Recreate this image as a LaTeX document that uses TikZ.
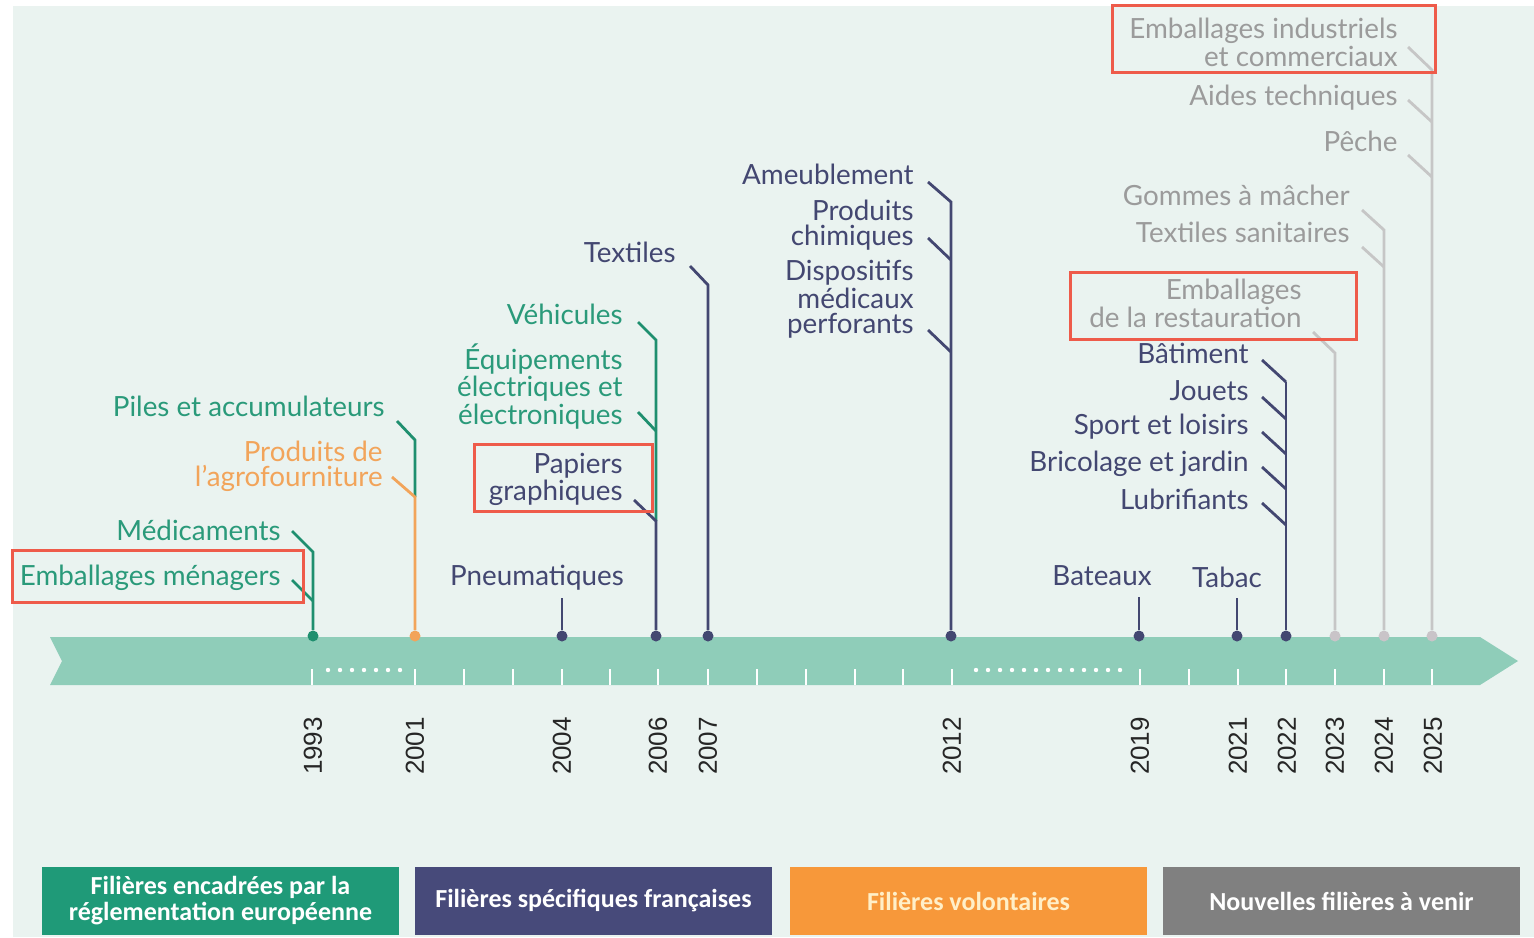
\documentclass[tikz,border=0pt]{standalone}
\usepackage{fontspec}
\setmainfont{Lato}
\newfontfamily\yearfont{Liberation Sans}
\newfontfamily\legfont{Carlito}
\definecolor{bgc}{HTML}{EAF3F0}
\definecolor{bandc}{HTML}{8FCDB9}
\definecolor{tgreen}{HTML}{2A9A7A}
\definecolor{lgreen}{HTML}{1F8F6F}
\definecolor{navy}{HTML}{434771}
\definecolor{torange}{HTML}{F2A45A}
\definecolor{tgray}{HTML}{9B9B9B}
\definecolor{lgray}{HTML}{C6C6C6}
\definecolor{dgray}{HTML}{C9C4C8}
\definecolor{redbox}{HTML}{EE5B4A}
\definecolor{legg}{HTML}{1F9A78}
\definecolor{legn}{HTML}{474A7A}
\definecolor{lego}{HTML}{F7983A}
\definecolor{legy}{HTML}{808080}
\definecolor{legot}{HTML}{FFEFC8}
\begin{document}
\begin{tikzpicture}[x=0.5pt,y=-0.5pt,
  lbl/.style={anchor=east, inner sep=0pt, align=right, yshift=-1.2pt, font=\fontsize{13.9}{12.6}\selectfont},
  gtxt/.style={lbl, text=tgreen},
  ntxt/.style={lbl, text=navy},
  otxt/.style={lbl, text=torange},
  ytxt/.style={lbl, text=tgray},
  gl/.style={draw=lgreen, line width=1.4pt},
  nl/.style={draw=navy, line width=1.4pt},
  ol/.style={draw=torange, line width=1.4pt},
  yl/.style={draw=lgray, line width=1.4pt},
  dot/.style={circle, inner sep=0pt, minimum size=5.5pt},
  tick/.style={draw=white, line width=1.3pt},
  year/.style={rotate=90, inner sep=0pt, font=\yearfont\fontsize{13}{13}\selectfont, text=black!85},
  hl/.style={draw=redbox, line width=1.5pt},
  leg/.style={minimum width=178.5pt, minimum height=34pt, inner sep=0pt, align=center, font=\legfont\bfseries\fontsize{13}{13}\selectfont}
]
\useasboundingbox (0,0) rectangle (1534,937);
\fill[white] (0,0) rectangle (1534,937);
\fill[bgc] (13,6) rectangle (1534,937);

% band
\fill[bandc] (50,637) -- (1480,637) -- (1518,661) -- (1480,685) -- (50,685) -- (62,661) -- cycle;
\foreach \x in {312,415,464,513,562,610,658,708,757,806,855,903,952,1140,1189,1238,1286,1335,1384,1432}
  \draw[tick] (\x,669) -- (\x,685);
\foreach \x in {328,340,...,400} \fill[white] (\x,670) circle (1.1pt);
\foreach \x in {976,988,...,1120} \fill[white] (\x,670) circle (1.1pt);

% years
\foreach \x/\y in {313/1993,415/2001,562/2004,658/2006,708/2007,952/2012,1140/2019,1238/2021,1287/2022,1335/2023,1384/2024,1433/2025}
  \node[year] at (\x,746) {\y};

% dots
\node[dot, fill=lgreen] (d93) at (313,636) {};
\node[dot, fill=torange] (d01) at (415,636) {};
\node[dot, fill=navy] (d04) at (562,636) {};
\node[dot, fill=navy] (d06) at (656,636) {};
\node[dot, fill=navy] (d07) at (708,636) {};
\node[dot, fill=navy] (d12) at (951,636) {};
\node[dot, fill=navy] (d19) at (1139,636) {};
\node[dot, fill=navy] (d21) at (1237,636) {};
\node[dot, fill=navy] (d22) at (1286,636) {};
\node[dot, fill=dgray] (d23) at (1335,636) {};
\node[dot, fill=dgray] (d24) at (1384,636) {};
\node[dot, fill=dgray] (d25) at (1432,636) {};

% labels
\node[gtxt] (t1) at (385,404) {Piles et accumulateurs};
\node[otxt] (t2) at (383,464) {Produits de\\l’agrofourniture};
\node[gtxt] (t3) at (281,528) {Médicaments};
\node[gtxt] (t4) at (281,575) {Emballages ménagers};
\node[ntxt, anchor=center] (t5) at (537,575) {Pneumatiques};
\node[gtxt] (t6) at (623,312) {Véhicules};
\node[gtxt] (t7) at (623,384) {Équipements\\électriques et\\électroniques};
\node[ntxt] (t8) at (623,477) {Papiers\\graphiques};
\node[ntxt] (t9) at (676,250) {Textiles};
\node[ntxt] (t10) at (914,172) {Ameublement};
\node[ntxt] (t11) at (914,223) {Produits\\chimiques};
\node[ntxt] (t12) at (914,297) {Dispositifs\\médicaux\\perforants};
\node[ytxt] (t13) at (1398,40) {Emballages industriels\\et commerciaux};
\node[ytxt] (t14) at (1398,95) {Aides techniques};
\node[ytxt] (t15) at (1398,139) {Pêche};
\node[ytxt] (t16) at (1350,193) {Gommes à mâcher};
\node[ytxt] (t17) at (1350,230) {Textiles sanitaires};
\node[ytxt] (t18) at (1302,301) {Emballages\\de la restauration};
\node[ntxt] (t19) at (1249,351) {Bâtiment};
\node[ntxt] (t20) at (1249,388) {Jouets};
\node[ntxt] (t21) at (1249,424) {Sport et loisirs};
\node[ntxt] (t22) at (1249,461) {Bricolage et jardin};
\node[ntxt] (t23) at (1249,497) {Lubrifiants};
\node[ntxt, anchor=center] (t24) at (1102,573) {Bateaux};
\node[ntxt, anchor=center] (t25) at (1227,575) {Tabac};

% connectors 1993
\coordinate (a1) at (292,531); \coordinate (ja1) at (313,552);
\coordinate (a2) at (292,580); \coordinate (ja2) at (313,601);
\draw[gl] (a1) -- (ja1) -- (d93);
\draw[gl] (a2) -- (ja2);
% 2001
\coordinate (b1) at (397,421); \coordinate (jb1) at (415,440);
\coordinate (b2) at (392,477); \coordinate (jb2) at (415,497);
\draw[gl] (b1) -- (jb1) -- (jb2);
\draw[ol] (b2) -- (jb2) -- (d01);
% 2004
\coordinate (c1) at (562,598);
\draw[nl] (c1) -- (d04);
% 2006
\coordinate (e1) at (638,322); \coordinate (je1) at (656,340);
\coordinate (e2) at (638,412); \coordinate (je2) at (656,431);
\coordinate (e3) at (634,500); \coordinate (je3) at (656,521);
\draw[gl] (e1) -- (je1) -- (je3);
\draw[gl] (e2) -- (je2);
\draw[nl] (e3) -- (je3) -- (d06);
% 2007
\coordinate (f1) at (690,266); \coordinate (jf1) at (708,285);
\draw[nl] (f1) -- (jf1) -- (d07);
% 2012
\coordinate (g1) at (928,182); \coordinate (jg1) at (951,202);
\coordinate (g2) at (928,238); \coordinate (jg2) at (951,260);
\coordinate (g3) at (928,330); \coordinate (jg3) at (951,352);
\draw[nl] (g1) -- (jg1) -- (d12);
\draw[nl] (g2) -- (jg2);
\draw[nl] (g3) -- (jg3);
% 2019, 2021
\coordinate (h1) at (1139,597); \draw[nl] (h1) -- (d19);
\coordinate (i1) at (1237,598); \draw[nl] (i1) -- (d21);
% 2022
\foreach \yy [count=\k] in {360,397,432,467,503} {
  \coordinate (k\k) at (1262,\yy); \coordinate (jk\k) at (1286,\yy+22);
  \draw[nl] (k\k) -- (jk\k);
}
\draw[nl] (jk1) -- (d22);
% 2023
\coordinate (m1) at (1313,332); \coordinate (jm1) at (1335,353);
\draw[yl] (m1) -- (jm1) -- (d23);
% 2024
\coordinate (n1) at (1362,210); \coordinate (jn1) at (1384,230);
\coordinate (n2) at (1362,247); \coordinate (jn2) at (1384,267);
\draw[yl] (n1) -- (jn1) -- (d24);
\draw[yl] (n2) -- (jn2);
% 2025
\coordinate (p1) at (1408,47); \coordinate (jp1) at (1432,70);
\coordinate (p2) at (1408,100); \coordinate (jp2) at (1432,122);
\coordinate (p3) at (1408,155); \coordinate (jp3) at (1432,177);
\draw[yl] (p1) -- (jp1) -- (d25);
\draw[yl] (p2) -- (jp2);
\draw[yl] (p3) -- (jp3);

% highlight boxes
\draw[hl] (12,550) rectangle (303,602);
\draw[hl] (474,444) rectangle (652,511);
\draw[hl] (1070,272) rectangle (1356,339);
\draw[hl] (1112,5) rectangle (1435,72);

% legend
\node[leg, fill=legg, text=white] (L1) at (220.5,901) {Filières encadrées par la\\réglementation européenne};
\node[leg, fill=legn, text=white] (L2) at (593.5,901) {Filières spécifiques françaises};
\node[leg, fill=lego, text=legot] (L3) at (968.5,901) {Filières volontaires};
\node[leg, fill=legy, text=white] (L4) at (1341.5,901) {Nouvelles filières à venir};
\end{tikzpicture}
\end{document}
